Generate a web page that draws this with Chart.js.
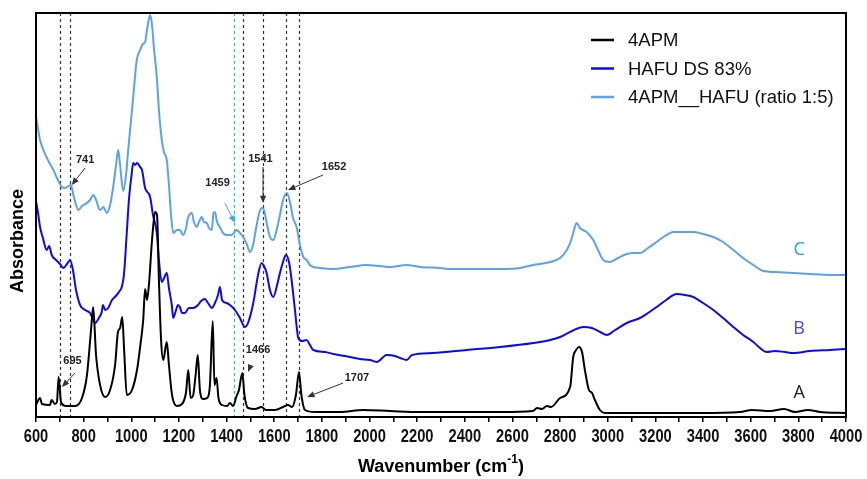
<!DOCTYPE html>
<html>
<head>
<meta charset="utf-8">
<script src="https://cdn.jsdelivr.net/npm/chart.js@4.4.1/dist/chart.umd.min.js"></script>
<style>
  html, body { margin: 0; padding: 0; background: #fff; }
  #wrap { width: 867px; height: 479px; }
</style>
</head>
<body>
<div id="wrap"><canvas id="ftir"></canvas></div>
<script>
// spectra: [wavenumber, absorbance (offset, arb. units)]
const spec4APM = [[600,12],[617,19],[625,13],[659,12],[665,17],[680,13],[688,15],[695,40],[705,15],[726,11],[764,11],[793,19],[814,42],[831,87],[840,110],[852,62],[869,32],[890,20],[911,27],[932,52],[944,85],[953,89],[962,100],[970,67],[981,22],[1003,27],[1024,47],[1037,70],[1050,97],[1058,128],[1066,117],[1074,132],[1087,177],[1100,205],[1108,202],[1116,137],[1125,77],[1134,57],[1149,75],[1158,52],[1171,22],[1191,11],[1213,13],[1230,25],[1239,47],[1249,19],[1259,21],[1270,42],[1279,62],[1288,27],[1301,18],[1318,19],[1330,32],[1342,96],[1349,32],[1358,39],[1366,19],[1381,12],[1402,11],[1414,14],[1427,11],[1442,21],[1452,27],[1466,44],[1475,22],[1490,9],[1519,8],[1547,10],[1565,7],[1603,7],[1637,10],[1658,12],[1675,10],[1691,22],[1704,45],[1714,22],[1729,7],[1771,5],[1876,5],[1973,7],[2086,6],[2212,5],[2338,5],[2548,5],[2686,6],[2703,9],[2724,8],[2744,11],[2762,10],[2800,19],[2842,30],[2855,60],[2867,67],[2879,70],[2892,65],[2904,47],[2921,27],[2934,24],[2946,17],[2967,7],[2988,4],[3177,4],[3387,4],[3555,5],[3605,7],[3681,6],[3740,8],[3786,5],[3840,7],[3891,5],[4000,4]];

const specHAFU = [[600,216],[608,205],[617,190],[629,179],[645,167],[655,171],[666,162],[684,157],[701,153],[715,149],[730,153],[743,157],[755,147],[768,127],[785,112],[806,107],[827,104],[848,94],[864,99],[876,105],[881,112],[890,107],[903,109],[919,117],[939,122],[948,125],[960,130],[969,142],[981,184],[990,217],[1002,244],[1008,254],[1016,252],[1024,254],[1037,250],[1045,247],[1058,229],[1079,220],[1091,202],[1107,184],[1116,157],[1128,135],[1134,137],[1149,144],[1158,129],[1170,112],[1176,99],[1188,107],[1196,112],[1204,110],[1213,104],[1225,104],[1242,109],[1260,109],[1280,112],[1293,116],[1309,118],[1322,114],[1338,109],[1351,114],[1364,122],[1372,130],[1381,117],[1400,114],[1414,112],[1435,107],[1456,99],[1477,90],[1490,94],[1512,114],[1532,142],[1547,154],[1557,151],[1568,144],[1582,127],[1596,120],[1612,132],[1624,144],[1637,155],[1649,162],[1662,155],[1673,137],[1687,107],[1701,79],[1717,76],[1736,77],[1750,72],[1764,67],[1813,65],[1848,63],[1897,61],[1960,58],[2002,57],[2030,55],[2072,62],[2107,61],[2128,59],[2156,57],[2178,62],[2266,64],[2408,67],[2548,70],[2688,74],[2758,77],[2800,80],[2850,86],[2897,90],[2933,89],[2968,85],[2996,82],[3031,87],[3080,94],[3135,99],[3169,104],[3205,110],[3245,117],[3289,123],[3324,122],[3359,120],[3400,114],[3443,107],[3484,99],[3527,90],[3568,82],[3611,75],[3639,69],[3667,65],[3702,66],[3744,65],[3779,64],[3849,66],[3933,67],[4000,68]];

const specMix = [[600,300],[608,289],[617,277],[631,267],[650,257],[673,247],[688,239],[708,230],[722,229],[746,232],[760,219],[778,207],[793,211],[813,214],[827,217],[841,222],[852,217],[869,207],[883,210],[897,204],[911,212],[924,230],[936,252],[945,267],[953,252],[966,226],[978,242],[987,267],[999,297],[1008,320],[1023,357],[1037,367],[1049,373],[1058,375],[1066,387],[1079,402],[1087,392],[1095,369],[1107,340],[1116,307],[1128,277],[1137,265],[1149,257],[1158,232],[1167,202],[1176,184],[1192,187],[1204,187],[1217,182],[1230,189],[1238,199],[1254,204],[1263,195],[1275,190],[1284,195],[1296,200],[1305,195],[1317,194],[1326,189],[1338,187],[1345,204],[1351,205],[1360,195],[1372,190],[1385,184],[1400,182],[1419,182],[1431,184],[1442,187],[1456,184],[1470,180],[1486,172],[1498,165],[1511,172],[1524,189],[1537,204],[1547,209],[1557,207],[1570,192],[1582,180],[1596,177],[1612,189],[1624,202],[1637,217],[1653,224],[1667,214],[1679,199],[1694,190],[1708,172],[1722,160],[1736,157],[1750,152],[1764,150],[1792,149],[1848,148],[1918,150],[1988,152],[2044,151],[2086,150],[2156,152],[2212,150],[2296,149],[2338,148],[2422,148],[2548,148],[2632,149],[2686,152],[2758,155],[2800,159],[2828,167],[2842,174],[2855,184],[2869,194],[2883,189],[2911,185],[2939,177],[2959,167],[2981,157],[3010,155],[3043,159],[3080,163],[3115,164],[3135,164],[3169,169],[3205,175],[3240,181],[3275,185],[3316,185],[3359,185],[3400,183],[3443,180],[3484,175],[3527,167],[3568,159],[3611,152],[3653,146],[3702,145],[3779,144],[3849,143],[3933,142],[4000,142]];

const seriesNames = ['4APM', 'HAFU DS 83%', '4APM__HAFU (ratio 1:5)'];
const seriesColors = ['#000000', '#0a0af2', '#5ba2ee'];

// dashed guide lines (cm-1)
const guideLines = [700, 742, 1432, 1469, 1552, 1650, 1704];
const guideCyan = 1432;

// peak annotations
const peakText = ['741', '1459', '1541', '1652', '695', '1466', '1707'];
const peakTextAt = [[806,257],[1362,234],[1542,258],[1851,250],[753,56],[1532,67],[1947,39]];
const arrowFrom = [[806,249],[1393,214],[1553,250],[1805,242],[764,44],[1502,52],[1889,34]];
const arrowTo = [[750,232],[1435,194],[1553,214],[1658,227],[709,30],[1490,45],[1738,20]];

const curveTags = ['A', 'B', 'C'];
const curveTagAt = [[3803,24],[3803,88],[3803,167]];
const curveTagColors = ['#222222', '#4646ee', '#1aa6de'];

const SANS = '"Liberation Sans", Arial, sans-serif';

function drawArrow(ctx, x1, y1, x2, y2, color) {
  const ang = Math.atan2(y2 - y1, x2 - x1);
  const len = 8;
  ctx.strokeStyle = color;
  ctx.fillStyle = color;
  ctx.lineWidth = 1;
  ctx.beginPath();
  ctx.moveTo(x1, y1);
  ctx.lineTo(x2 - Math.cos(ang) * len * 0.8, y2 - Math.sin(ang) * len * 0.8);
  ctx.stroke();
  ctx.beginPath();
  ctx.moveTo(x2, y2);
  ctx.lineTo(x2 - len * Math.cos(ang - 0.4), y2 - len * Math.sin(ang - 0.4));
  ctx.lineTo(x2 - len * Math.cos(ang + 0.4), y2 - len * Math.sin(ang + 0.4));
  ctx.closePath();
  ctx.fill();
}

const decorPlugin = {
  id: 'ftirDecor',
  beforeDatasetsDraw(chart) {
    const {ctx, chartArea: a, scales: {x}} = chart;
    ctx.save();
    ctx.lineWidth = 1.2;
    ctx.setLineDash([3, 3]);
    guideLines.forEach(v => {
      const px = Math.round(x.getPixelForValue(v)) + 0.5;
      ctx.strokeStyle = v === guideCyan ? '#2ab4ea' : '#333333';
      ctx.beginPath();
      ctx.moveTo(px, a.top);
      ctx.lineTo(px, a.bottom);
      ctx.stroke();
    });
    ctx.restore();
  },
  afterDraw(chart) {
    const {ctx, chartArea: a, scales: {x, y}} = chart;
    ctx.save();

    // frame
    ctx.strokeStyle = '#000';
    ctx.lineWidth = 2;
    ctx.strokeRect(a.left, a.top, a.right - a.left, a.bottom - a.top);

    // tick labels (the original font is vertically stretched)
    ctx.fillStyle = '#111';
    ctx.font = 'bold 14px ' + SANS;
    ctx.textAlign = 'center';
    ctx.textBaseline = 'middle';
    x.ticks.forEach(t => {
      if (t.value % 200 !== 0) return;
      ctx.save();
      ctx.translate(x.getPixelForValue(t.value), 437);
      ctx.scale(1.05, 1.35);
      ctx.fillText(String(t.value), 0, 0);
      ctx.restore();
    });

    // peak labels + arrows
    ctx.font = 'bold 11px ' + SANS;
    peakText.forEach((t, i) => {
      ctx.fillStyle = '#222';
      ctx.fillText(t, x.getPixelForValue(peakTextAt[i][0]), y.getPixelForValue(peakTextAt[i][1]));
      const col = t === '1459' ? '#2ab4ea' : '#333';
      drawArrow(ctx,
        x.getPixelForValue(arrowFrom[i][0]), y.getPixelForValue(arrowFrom[i][1]),
        x.getPixelForValue(arrowTo[i][0]), y.getPixelForValue(arrowTo[i][1]), col);
    });

    // A / B / C tags
    ctx.font = '18px "Open Sans", sans-serif';
    curveTags.forEach((t, i) => {
      ctx.fillStyle = curveTagColors[i];
      ctx.fillText(t, x.getPixelForValue(curveTagAt[i][0]), y.getPixelForValue(curveTagAt[i][1]));
    });

    // legend
    ctx.font = '18.5px ' + SANS;
    ctx.textAlign = 'left';
    chart.data.datasets.forEach((ds, i) => {
      const ly = 40 + i * 28.5;
      ctx.strokeStyle = ds.borderColor;
      ctx.lineWidth = 2.5;
      ctx.beginPath();
      ctx.moveTo(591, ly);
      ctx.lineTo(614, ly);
      ctx.stroke();
      ctx.fillStyle = '#111';
      ctx.fillText(ds.label, 628, ly + 1);
    });

    // axis titles
    ctx.fillStyle = '#000';
    const main = 'Wavenumber (cm';
    const sup = '-1';
    ctx.font = 'bold 18px ' + SANS;
    const w1 = ctx.measureText(main).width;
    const w3 = ctx.measureText(')').width;
    ctx.font = 'bold 12px ' + SANS;
    const w2 = ctx.measureText(sup).width;
    const cx = (a.left + a.right) / 2;
    const tx = cx - (w1 + w2 + w3) / 2;
    ctx.font = 'bold 18px ' + SANS;
    ctx.fillText(main, tx, 467);
    ctx.fillText(')', tx + w1 + w2, 467);
    ctx.font = 'bold 12px ' + SANS;
    ctx.fillText(sup, tx + w1, 460);

    ctx.translate(18, 241);
    ctx.rotate(-Math.PI / 2);
    ctx.textAlign = 'center';
    ctx.font = 'bold 18px ' + SANS;
    ctx.fillText('Absorbance', 0, 0);
    ctx.restore();
  }
};

const toPoints = arr => arr.map(p => ({x: p[0], y: p[1]}));
const allSpectra = [spec4APM, specHAFU, specMix];

const config = {
  type: 'line',
  data: {
    datasets: allSpectra.map((s, i) => ({
      label: seriesNames[i],
      data: toPoints(s),
      borderColor: seriesColors[i],
      borderWidth: 2,
      pointRadius: 0,
      cubicInterpolationMode: 'monotone',
      fill: false
    }))
  },
  options: {
    responsive: true,
    maintainAspectRatio: false,
    animation: false,
    devicePixelRatio: 1,
    layout: { padding: { left: 36, top: 13, right: 21, bottom: 0 } },
    plugins: {
      legend: { display: false },
      tooltip: { enabled: false }
    },
    scales: {
      x: {
        type: 'linear',
        min: 600,
        max: 4000,
        afterFit: scale => { scale.height = 62; },
        ticks: {
          stepSize: 100,
          autoSkip: false,
          maxRotation: 0,
          padding: 6,
          color: 'rgba(0,0,0,0)',
          font: { family: SANS, size: 6 }
        },
        grid: {
          drawOnChartArea: false,
          drawTicks: true,
          tickLength: 5,
          color: '#000',
          lineWidth: 1.5
        },
        border: { display: true, color: '#000', width: 2 }
      },
      y: {
        display: false,
        min: 0,
        max: 404
      }
    }
  },
  plugins: [decorPlugin]
};

new Chart(document.getElementById('ftir'), config);
</script>
</body>
</html>
